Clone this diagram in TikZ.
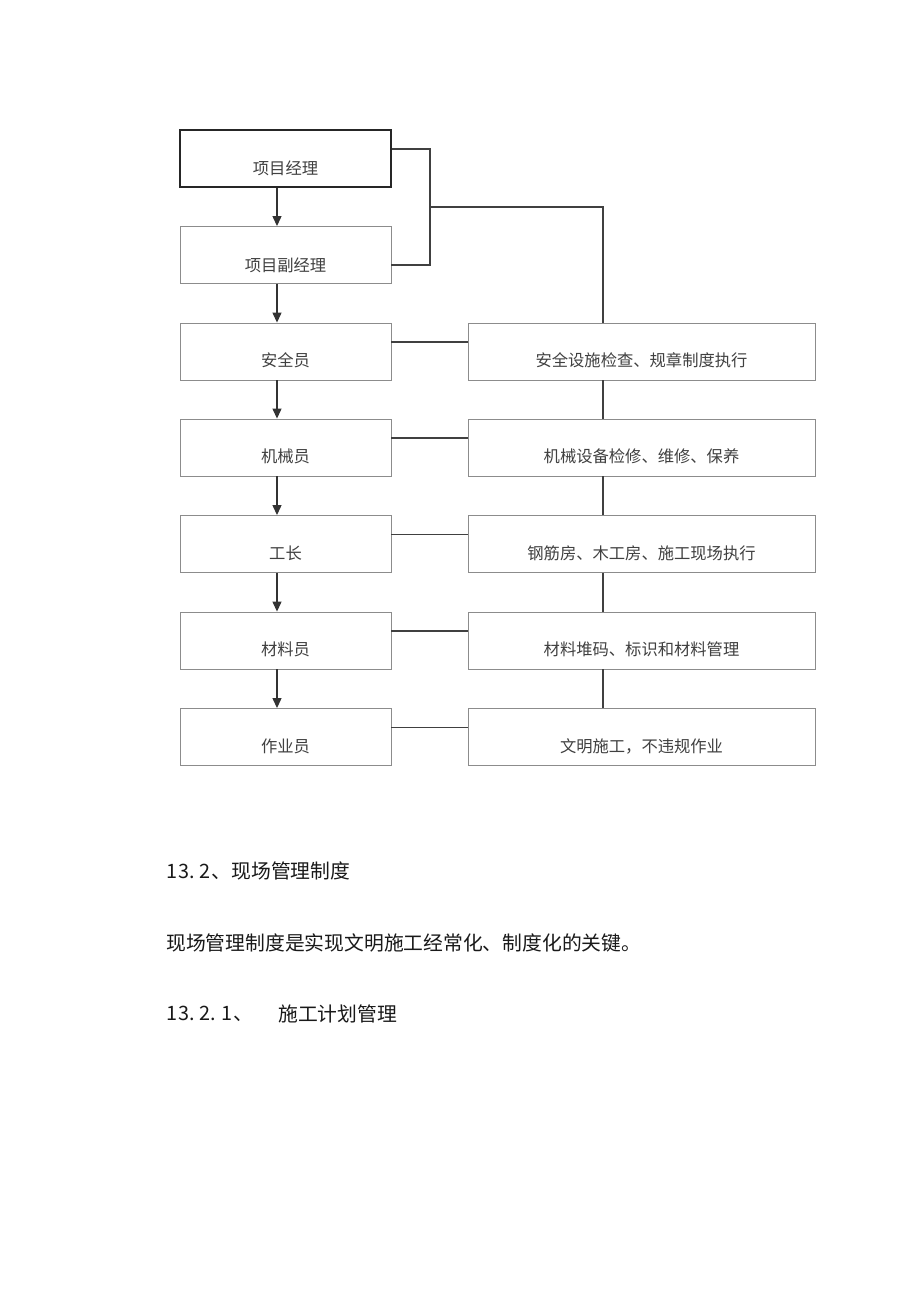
\documentclass[tikz,border=0pt]{standalone}
\usepackage{fontspec}
\newfontfamily\cjk{Noto Sans CJK SC}
\usetikzlibrary{arrows.meta,calc}
\begin{document}
\begin{tikzpicture}[x=1pt,y=-1pt,
  lbox/.style={draw=black!45,line width=0.9pt,minimum width=211pt,minimum height=57pt,inner sep=0pt},
  rbox/.style={draw=black!45,line width=0.9pt,minimum width=347pt,minimum height=57pt,inner sep=0pt},
  btxt/.style={font=\cjk\fontsize{16.3}{19}\selectfont,text=black!75,inner sep=0pt},
  ptxt/.style={font=\cjk\fontsize{19.8}{23}\selectfont,text=black!90,inner sep=0pt,anchor=west},
  arr/.style={draw=black!80,line width=1.2pt,-{Triangle[length=10pt,width=9pt]}},
  con/.style={draw=black!75,line width=1.2pt}]
\useasboundingbox (0,0) rectangle (920,1302);
\fill[white] (0,0) rectangle (920,1302);
% left boxes
\node[lbox,draw=black!85,line width=1.3pt] (L1) at (285.5,158.5) {};
\node[lbox] (L2) at (285.5,255) {};
\node[lbox] (L3) at (285.5,351.5) {};
\node[lbox] (L4) at (285.5,447.5) {};
\node[lbox] (L5) at (285.5,544) {};
\node[lbox] (L6) at (285.5,640.5) {};
\node[lbox] (L7) at (285.5,737) {};
% right boxes
\node[rbox] (R3) at (641.5,351.5) {};
\node[rbox] (R4) at (641.5,447.5) {};
\node[rbox] (R5) at (641.5,544) {};
\node[rbox] (R6) at (641.5,640.5) {};
\node[rbox] (R7) at (641.5,737) {};
% texts
\node[btxt] (t1) at ($(L1.center)+(0,10)$) {项目经理};
\node[btxt] (t2) at ($(L2.center)+(0,10)$) {项目副经理};
\node[btxt] (t3) at ($(L3.center)+(0,9)$) {安全员};
\node[btxt] (t4) at ($(L4.center)+(0,9)$) {机械员};
\node[btxt] (t5) at ($(L5.center)+(0,9)$) {工长};
\node[btxt] (t6) at ($(L6.center)+(0,9)$) {材料员};
\node[btxt] (t7) at ($(L7.center)+(0,9)$) {作业员};
\node[btxt] (u3) at ($(R3.center)+(0,9)$) {安全设施检查、规章制度执行};
\node[btxt] (u4) at ($(R4.center)+(0,9)$) {机械设备检修、维修、保养};
\node[btxt] (u5) at ($(R5.center)+(0,9)$) {钢筋房、木工房、施工现场执行};
\node[btxt] (u6) at ($(R6.center)+(0,9)$) {材料堆码、标识和材料管理};
\node[btxt] (u7) at ($(R7.center)+(0,9)$) {文明施工，不违规作业};
% arrows down the left column
\foreach \a/\b in {L1/L2,L2/L3,L3/L4,L4/L5,L5/L6,L6/L7}
  \draw[arr] ([xshift=-8.5pt]\a.south) -- ([xshift=-8.5pt]\b.north);
% manager bracket
\coordinate (j) at (430,207);
\draw[con] ([yshift=9.5pt]L1.east) -| (j) |- ([yshift=-10pt]L2.east);
\draw[con] (j) -| ([xshift=-38.5pt]R3.north);
% right verticals
\foreach \a/\b in {R3/R4,R4/R5,R5/R6,R6/R7}
  \draw[con] ([xshift=-38.5pt]\a.south) -- ([xshift=-38.5pt]\b.north);
% horizontal links
\foreach \a/\b in {L3/R3,L4/R4,L5/R5,L6/R6,L7/R7}
  \draw[con] ([yshift=9.5pt]\a.east) -- ([yshift=9.5pt]\b.west);
% text below
\node[ptxt] (p1) at (166,871) {1\kern1pt 3.\kern5pt 2\kern1pt 、现场管理制度};
\node[ptxt] (p2) at (166,943) {现场管理制度是实现文明施工经常化、制度化的关键。};
\node[ptxt] (p3) at (166,1014) {1\kern1pt 3.\kern5pt 2.\kern5pt 1\kern1pt 、};
\node[ptxt] (p4) at (278,1014) {施工计划管理};
\end{tikzpicture}
\end{document}
